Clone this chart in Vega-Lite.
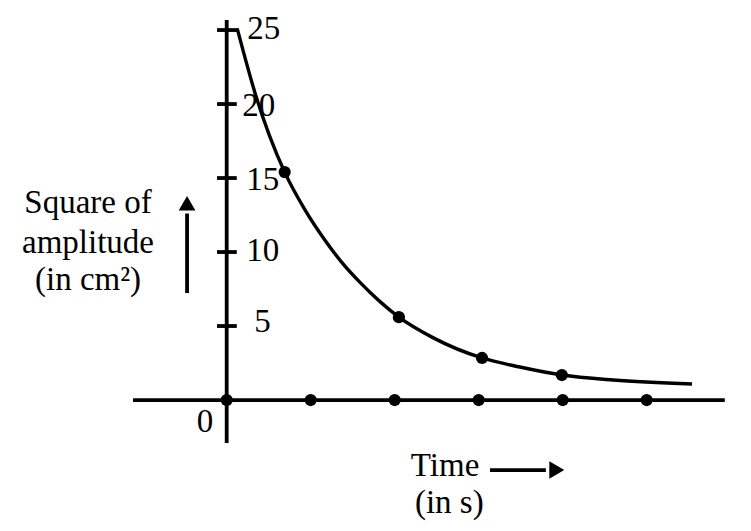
{
  "$schema": "https://vega.github.io/schema/vega-lite/v6.json",
  "width": 751,
  "height": 531,
  "autosize": {"type": "fit", "contains": "padding"},
  "padding": 0,
  "background": "white",
  "config": {"view": {"stroke": null}},
  "datasets": {
    "segments": [
      {"x": -1.115, "y": 0, "x2": 5.93, "y2": 0},
      {"x": 0, "y": -2.9, "x2": 0, "y2": 25.68},
      {"x": -0.115, "y": 25, "x2": 0.146, "y2": 25},
      {"x": -0.115, "y": 20, "x2": 0.12, "y2": 20},
      {"x": -0.115, "y": 15, "x2": 0.12, "y2": 15},
      {"x": -0.115, "y": 10, "x2": 0.12, "y2": 10},
      {"x": -0.115, "y": 5, "x2": 0.12, "y2": 5},
      {"x": 3.135, "y": -4.73, "x2": 3.8, "y2": -4.73},
      {"x": -0.472, "y": 7.23, "x2": -0.472, "y2": 12.6}
    ],
    "curve": [
      {"t": 0.13, "v": 25.0},
      {"t": 0.345, "v": 20.6},
      {"t": 0.69, "v": 15.4},
      {"t": 0.932, "v": 12.85},
      {"t": 1.17, "v": 10.8},
      {"t": 1.385, "v": 9.2},
      {"t": 1.587, "v": 7.95},
      {"t": 1.825, "v": 6.65},
      {"t": 2.05, "v": 5.6},
      {"t": 2.46, "v": 4.2},
      {"t": 3.04, "v": 2.84},
      {"t": 3.49, "v": 2.23},
      {"t": 3.99, "v": 1.69},
      {"t": 4.6, "v": 1.35},
      {"t": 5.54, "v": 1.08}
    ],
    "dots": [
      {"t": 0, "v": 0},
      {"t": 1, "v": 0},
      {"t": 2, "v": 0},
      {"t": 3, "v": 0},
      {"t": 4, "v": 0},
      {"t": 5, "v": 0},
      {"t": 0.69, "v": 15.4},
      {"t": 2.05, "v": 5.6},
      {"t": 3.04, "v": 2.84},
      {"t": 3.99, "v": 1.69}
    ],
    "headsUp": [{"x": -0.472, "y": 13.3}],
    "headsRight": [{"x": 3.93, "y": -4.73}],
    "tickLabels": [
      {"x": 0.244, "y": 25.1, "text": "25"},
      {"x": 0.184, "y": 19.86, "text": "20"},
      {"x": 0.232, "y": 14.86, "text": "15"},
      {"x": 0.232, "y": 10.1, "text": "10"},
      {"x": 0.327, "y": 5.27, "text": "5"}
    ],
    "centerLabels": [
      {"x": -0.258, "y": -1.49, "text": "0"},
      {"x": -1.651, "y": 13.3, "text": "Square of"},
      {"x": -1.651, "y": 10.6, "text": "amplitude"},
      {"x": -1.651, "y": 8.1, "text": "(in cm²)"},
      {"x": 2.6, "y": -4.46, "text": "Time"},
      {"x": 2.65, "y": -6.96, "text": "(in s)"}
    ]
  },
  "layer": [
    {
      "data": {"name": "segments"},
      "mark": {"type": "rule", "color": "black", "strokeWidth": 3.8},
      "encoding": {
        "x": {"field": "x", "type": "quantitative", "axis": null, "scale": {"domain": [-2.699, 6.242], "nice": false, "zero": false}},
        "y": {"field": "y", "type": "quantitative", "axis": null, "scale": {"domain": [-8.85, 27.03], "nice": false, "zero": false}},
        "x2": {"field": "x2"},
        "y2": {"field": "y2"}
      }
    },
    {
      "data": {"name": "curve"},
      "mark": {"type": "line", "color": "black", "strokeWidth": 3.4, "interpolate": "monotone"},
      "encoding": {
        "x": {"field": "t", "type": "quantitative", "axis": null},
        "y": {"field": "v", "type": "quantitative", "axis": null}
      }
    },
    {
      "data": {"name": "dots"},
      "mark": {"type": "point", "filled": true, "color": "black", "opacity": 1, "size": 150},
      "encoding": {
        "x": {"field": "t", "type": "quantitative", "axis": null},
        "y": {"field": "v", "type": "quantitative", "axis": null}
      }
    },
    {
      "data": {"name": "headsUp"},
      "mark": {"type": "point", "shape": "triangle-up", "filled": true, "color": "black", "opacity": 1, "size": 280},
      "encoding": {
        "x": {"field": "x", "type": "quantitative", "axis": null},
        "y": {"field": "y", "type": "quantitative", "axis": null}
      }
    },
    {
      "data": {"name": "headsRight"},
      "mark": {"type": "point", "shape": "triangle-right", "filled": true, "color": "black", "opacity": 1, "size": 300},
      "encoding": {
        "x": {"field": "x", "type": "quantitative", "axis": null},
        "y": {"field": "y", "type": "quantitative", "axis": null}
      }
    },
    {
      "data": {"name": "tickLabels"},
      "mark": {"type": "text", "align": "left", "baseline": "middle", "font": "Liberation Serif", "fontSize": 33, "color": "black"},
      "encoding": {
        "x": {"field": "x", "type": "quantitative", "axis": null},
        "y": {"field": "y", "type": "quantitative", "axis": null},
        "text": {"field": "text"}
      }
    },
    {
      "data": {"name": "centerLabels"},
      "mark": {"type": "text", "align": "center", "baseline": "middle", "font": "Liberation Serif", "fontSize": 33, "color": "black"},
      "encoding": {
        "x": {"field": "x", "type": "quantitative", "axis": null},
        "y": {"field": "y", "type": "quantitative", "axis": null},
        "text": {"field": "text"}
      }
    }
  ]
}
